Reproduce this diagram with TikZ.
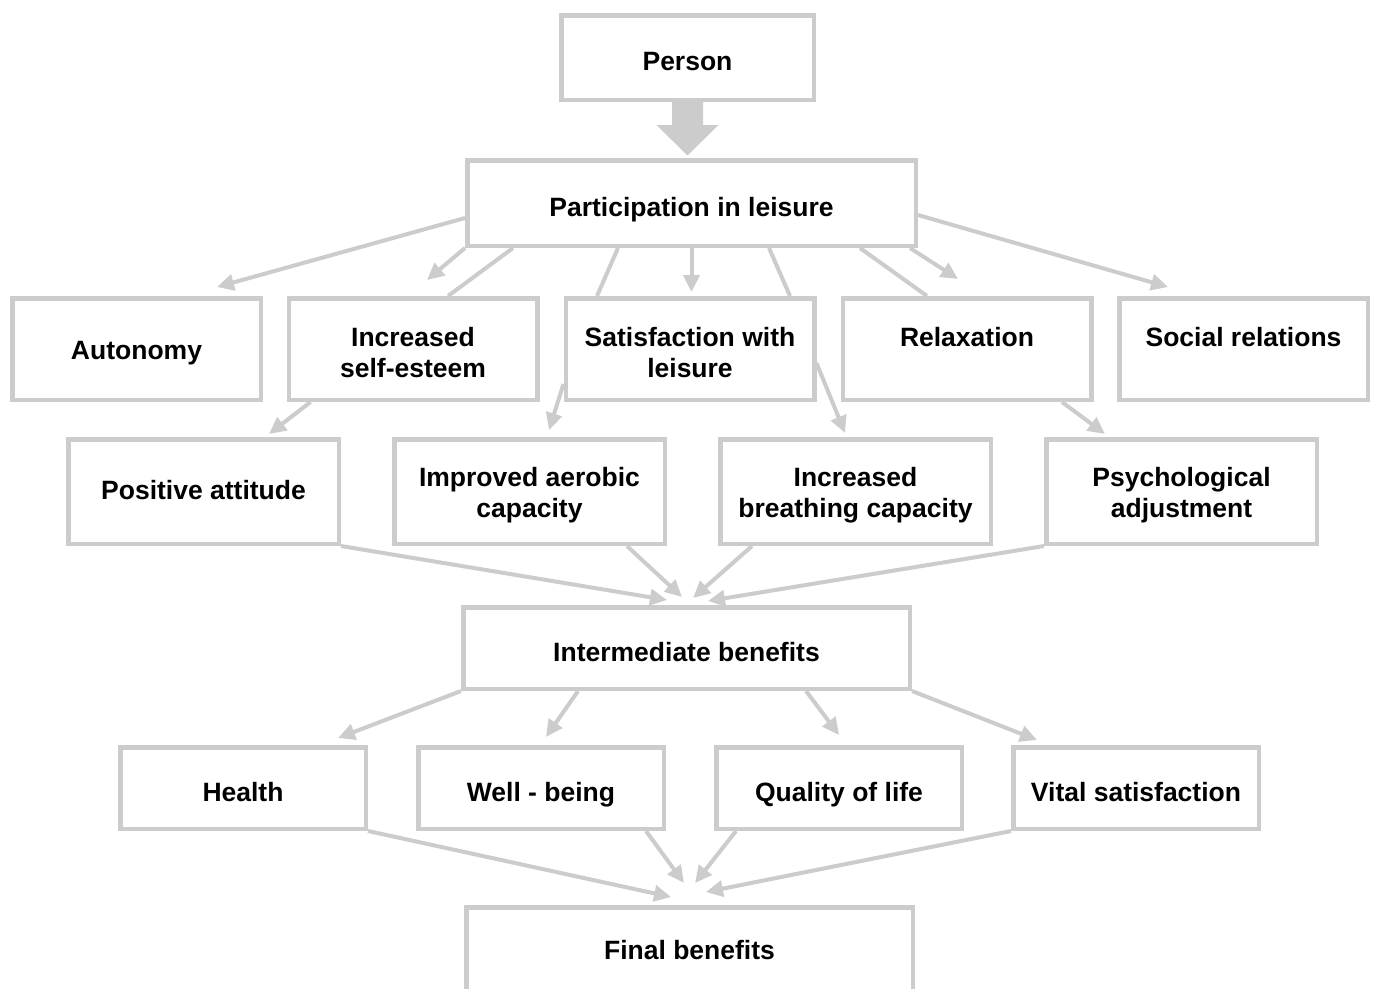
\documentclass[tikz,border=0pt]{standalone}
\usepackage{fontspec}
\setmainfont{Liberation Sans}
\usetikzlibrary{calc,arrows.meta}
\definecolor{lg}{RGB}{204,204,204}
\begin{document}
\begin{tikzpicture}[x=1pt,y=-1pt,
  box/.style={draw=lg,line width=4.5pt,fill=white,rectangle,inner sep=0pt,align=center,
    font=\fontsize{26.5}{31}\selectfont\bfseries,text height=26pt,text depth=0pt},
  two/.style={text height=57pt,text depth=0pt},
  r1/.style={box,minimum width=248.5pt,minimum height=101.5pt},
  r2/.style={box,minimum width=270.5pt,minimum height=104.5pt,text height=16pt},
  r2two/.style={r2,text height=52pt},
  r3/.style={box,minimum width=245.5pt,minimum height=81.5pt},
  wide/.style={box,minimum width=447pt,minimum height=83pt},
  conn/.style={draw=lg,line width=4pt,-{Triangle[length=17pt,width=16pt]}},
  link/.style={draw=lg,line width=4pt}]
\clip (0,0) rectangle (1373,988);
\useasboundingbox (0,0) rectangle (1373,988);
\fill[white] (0,0) rectangle (1373,988);

% boxes
\node[box,minimum width=252.5pt,minimum height=84.5pt] (person) at (687.5,57.5) {Person};
\node[wide,minimum width=448.5pt,minimum height=85.5pt] (part) at (691.5,203) {Participation in leisure};

\node[r1,text height=21pt] (aut) at (136.5,349) {Autonomy};
\node[r1,two] (inc) at (413,349) {Increased\\self-esteem};
\node[r1,two] (sat) at (690,349) {Satisfaction with\\leisure};
\node[r1,two] (rel) at (967,349) {Relaxation\\\phantom{X}};
\node[r1,two] (soc) at (1243.5,349) {Social relations\\\phantom{X}};

\node[r2] (pos) at (203.5,491.5) {Positive attitude};
\node[r2two] (imp) at (529.5,491.5) {Improved aerobic\\capacity};
\node[r2two] (bre) at (855.5,491.5) {Increased\\breathing capacity};
\node[r2two] (psy) at (1181.5,491.5) {Psychological\\adjustment};

\node[wide,minimum width=446.5pt,minimum height=81.5pt] (inter) at (686.5,648) {Intermediate benefits};

\node[r3] (hea) at (243,788) {Health};
\node[r3] (wel) at (541,788) {Well - being};
\node[r3] (qua) at (839,788) {Quality of life};
\node[r3] (vit) at (1136,788) {Vital satisfaction};

\node[wide,minimum width=446.5pt,minimum height=86pt,text height=19pt] (fin) at (689.5,950.25) {Final benefits};

% big arrow
\fill[lg] ($(person.south)+(-15.5,0)$) -- ($(person.south)+(15.5,0)$)
  -- ($(person.south)+(15.5,23)$) -- ($(person.south)+(31,23)$)
  -- ($(person.south)+(0,53.5)$) -- ($(person.south)+(-31,23)$)
  -- ($(person.south)+(-15.5,23)$) -- cycle;

% tip coordinates
\coordinate (ta1) at (217,287);
\coordinate (ta2) at (427,280);
\coordinate (ta5) at (691.5,292);
\coordinate (ta8) at (958,279);
\coordinate (ta9) at (1168,287);
\coordinate (tb1) at (269,434);
\coordinate (tb2) at (549,430);
\coordinate (tb3) at (845,433);
\coordinate (tb4) at (1105,434);
\coordinate (tc1) at (667,600);
\coordinate (tc2) at (682,597);
\coordinate (tc3) at (693,598);
\coordinate (tc4) at (708,601);
\coordinate (td1) at (338,738);
\coordinate (td2) at (546,737);
\coordinate (td3) at (839,735);
\coordinate (td4) at (1037,740);
\coordinate (te1) at (671,897);
\coordinate (te2) at (684,883);
\coordinate (te3) at (695,883);
\coordinate (te4) at (706,892);

% from participation
\draw[conn] ($(part.west)+(0,15)$) -- (ta1);
\draw[conn] (part.south west) -- (ta2);
\draw[link] ($(part.south west)+(48,0)$) -- ($(inc.north)+(35,0)$);
\draw[link] ($(part.south)+(-73.5,0)$) -- ($(sat.north)+(-93,0)$);
\draw[conn] (part.south) -- (ta5);
\draw[link] ($(part.south)+(77.5,0)$) -- ($(sat.north)+(100,0)$);
\draw[link] ($(part.south)+(168.5,0)$) -- ($(rel.north)+(-40,0)$);
\draw[conn] ($(part.south)+(218.5,0)$) -- (ta8);
\draw[conn] ($(part.east)+(0,12)$) -- (ta9);

% row 1 to row 2
\draw[conn] ($(inc.south west)+(24,0)$) -- (tb1);
\draw[conn] ($(sat.south west)+(0,-18)$) -- (tb2);
\draw[conn] ($(sat.east)+(0,14)$) -- (tb3);
\draw[conn] ($(rel.south)+(95,0)$) -- (tb4);

% row 2 to intermediate
\draw[conn] (pos.south east) -- (tc1);
\draw[conn] ($(imp.south)+(97.5,0)$) -- (tc2);
\draw[conn] ($(bre.south)+(-103.5,0)$) -- (tc3);
\draw[conn] (psy.south west) -- (tc4);

% intermediate to row 3
\draw[conn] (inter.south west) -- (td1);
\draw[conn] ($(inter.south)+(-108.5,0)$) -- (td2);
\draw[conn] ($(inter.south)+(119.5,0)$) -- (td3);
\draw[conn] (inter.south east) -- (td4);

% row 3 to final
\draw[conn] (hea.south east) -- (te1);
\draw[conn] ($(wel.south)+(105,0)$) -- (te2);
\draw[conn] ($(qua.south)+(-103,0)$) -- (te3);
\draw[conn] (vit.south west) -- (te4);
\end{tikzpicture}
\end{document}
